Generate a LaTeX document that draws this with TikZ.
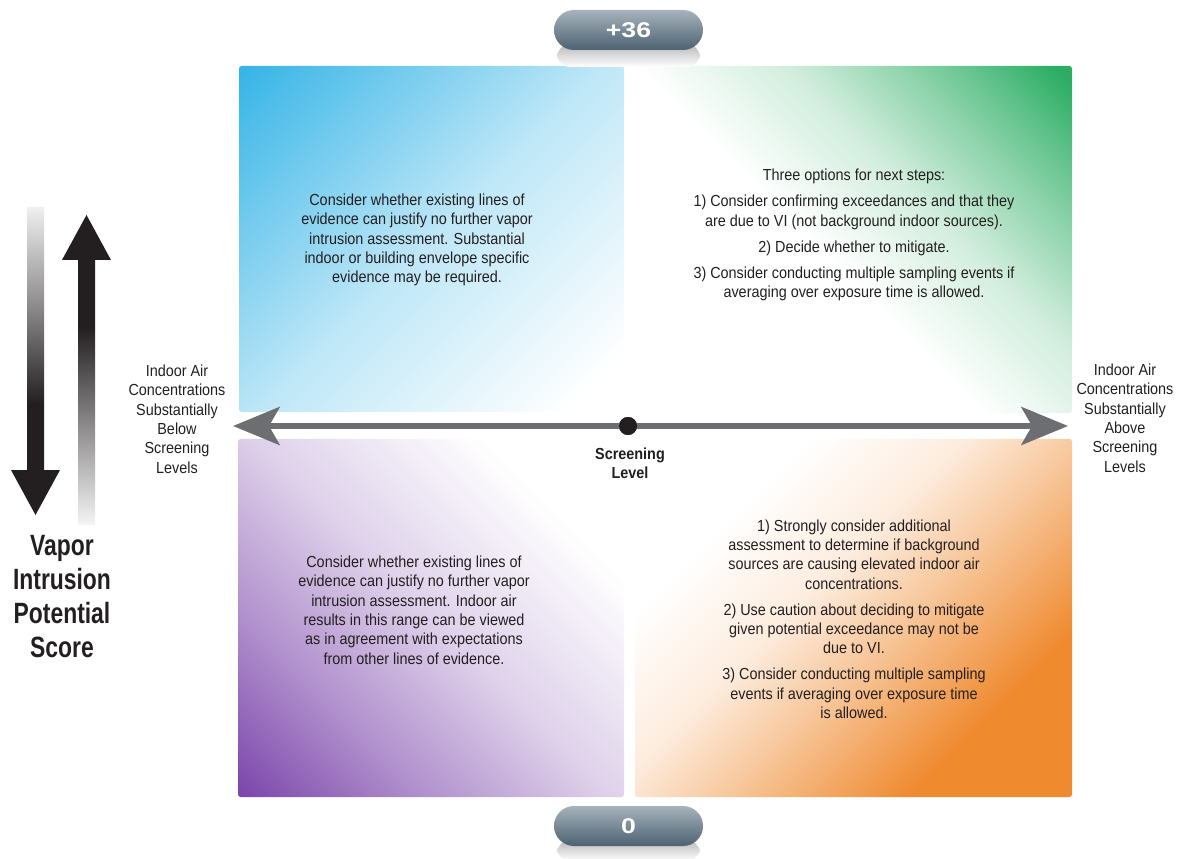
\documentclass[tikz,border=0pt]{standalone}
\usepackage{fontspec}
\setmainfont{Liberation Sans}[FakeStretch=0.9]
\newfontfamily\titlefont{Liberation Sans}[FakeStretch=0.78]
\newfontfamily\pillfont{Liberation Sans}[FakeStretch=1.25]
\usetikzlibrary{arrows.meta}

\definecolor{txt}{HTML}{231F20}
\definecolor{qcyan}{HTML}{35B4E6}
\definecolor{qgreen}{HTML}{2BAD63}
\definecolor{qpurple}{HTML}{7B45AA}
\definecolor{qorange}{HTML}{EF8A2F}
\definecolor{axisgray}{HTML}{6D6E71}
\definecolor{pilltop}{HTML}{A7B3BB}
\definecolor{pillbot}{HTML}{4C6272}

% diagonal fades for the four quadrants (corner colour -> white)
\pgfdeclarehorizontalshading{tlshade}{100bp}{color(0bp)=(qcyan); color(14.6bp)=(qcyan); color(50bp)=(qcyan!32!white); color(80bp)=(white); color(100bp)=(white)}
\pgfdeclarehorizontalshading{trshade}{100bp}{color(0bp)=(qgreen); color(16bp)=(qgreen); color(26bp)=(qgreen!65!white); color(40bp)=(qgreen!22!white); color(54bp)=(white); color(100bp)=(white)}
\pgfdeclarehorizontalshading{blshade}{100bp}{color(0bp)=(qpurple); color(14.6bp)=(qpurple); color(32bp)=(qpurple!60!white); color(50bp)=(qpurple!25!white); color(72bp)=(white); color(100bp)=(white)}
\pgfdeclarehorizontalshading{brshade}{100bp}{color(0bp)=(qorange); color(29bp)=(qorange); color(43bp)=(qorange!55!white); color(56bp)=(qorange!16!white); color(70bp)=(white); color(100bp)=(white)}
% fading shafts of the two vertical arrows
\pgfdeclareverticalshading{downfade}{100bp}{color(0bp)=(txt); color(43bp)=(txt); color(58bp)=(txt!55!white); color(75bp)=(white!94!black); color(100bp)=(white!94!black)}
\pgfdeclareverticalshading{upfade}{100bp}{color(0bp)=(white!96!black); color(25bp)=(white!96!black); color(42bp)=(txt!55!white); color(57bp)=(txt); color(100bp)=(txt)}

\tikzset{
  quad/.style={rounded corners=2pt},
  body/.style={text=txt, align=center, inner sep=0pt, font=\fontsize{12}{14.5}\selectfont},
  sidelabel/.style={text=txt, align=center, inner sep=0pt, font=\fontsize{12}{14.5}\selectfont},
  title/.style={text=txt, align=center, inner sep=0pt, font=\titlefont\bfseries\fontsize{22}{25.5}\selectfont},
  pill/.style={rectangle, rounded corners=15pt, minimum width=111.75pt, minimum height=30pt, top color=pilltop, bottom color=pillbot, text=white, font=\pillfont\bfseries\fontsize{16}{18}\selectfont, inner sep=0pt},
  pillshadow/.style={rounded corners=10pt, top color=black!28, bottom color=white},
  axisarrow/.style={draw=axisgray, line width=4.5pt, -{Stealth[length=35pt, width=28.5pt, inset=8pt]}},
  vdot/.style={circle, fill=txt, minimum size=13.5pt, inner sep=0pt},
  bolddot/.style={text=txt, align=center, inner sep=0pt, font=\bfseries\fontsize{12}{14.5}\selectfont}
}

\begin{document}
\begin{tikzpicture}[x=0.75pt, y=-0.75pt]
\useasboundingbox (0,0) rectangle (1179,859);

% quadrants
\shade[quad, shading=tlshade, shading angle=-45] (239,66) rectangle (624,412);
\shade[quad, shading=trshade, shading angle=-135] (635,66) rectangle (1072,413);
\shade[quad, shading=blshade, shading angle=45] (238,439) rectangle (624,797);
\shade[quad, shading=brshade, shading angle=135] (635,439) rectangle (1072,797);

% score pills with their reflections
\shade[pillshadow] (557,44) rectangle (700,67);
\node[pill] (top) at (628.5,30) {+36};
\shade[pillshadow] (557,840) rectangle (700,861);
\node[pill] (bottom) at (628.5,826) {0};

% horizontal axis
\node[vdot] (dot) at (628,426) {};
\coordinate (axL) at (233,426);
\coordinate (axR) at (1068,426);
\draw[axisarrow] (dot) -- (axL);
\draw[axisarrow] (dot) -- (axR);
\node[vdot] at (dot) {};
\node[bolddot] (screen) at (630,463) {Screening\\Level};

% vertical score arrows
\shade[shading=downfade] (27,207) -- (44,207) -- (44,470) -- (60,470) -- (35.5,515) -- (11,470) -- (27,470) -- cycle;
\shade[shading=upfade] (78,525) -- (95,525) -- (95,260) -- (111,260) -- (86.5,215) -- (62,260) -- (78,260) -- cycle;

\node[title] (score) at (62,597) {Vapor\\Intrusion\\Potential\\Score};

% side labels
\node[sidelabel] (below) at (177,419) {Indoor Air\\Concentrations\\Substantially\\Below\\Screening\\Levels};
\node[sidelabel] (above) at (1125,418) {Indoor Air\\Concentrations\\Substantially\\Above\\Screening\\Levels};

% quadrant texts
\node[body] (tltext) at (417,240) {Consider whether existing lines of\\evidence can justify no further vapor\\intrusion assessment. Substantial\\indoor or building envelope specific\\evidence may be required.};

\node[body] (trtext) at (854,235) {Three options for next steps:\\[5pt]1) Consider confirming exceedances and that they\\are due to VI (not background indoor sources).\\[5pt]2) Decide whether to mitigate.\\[5pt]3) Consider conducting multiple sampling events if\\averaging over exposure time is allowed.};

\node[body] (bltext) at (414,610) {Consider whether existing lines of\\evidence can justify no further vapor\\intrusion assessment. Indoor air\\results in this range can be viewed\\as in agreement with expectations\\from other lines of evidence.};

\node[body] (brtext) at (854,619) {1) Strongly consider additional\\assessment to determine if background\\sources are causing elevated indoor air\\concentrations.\\[5pt]2) Use caution about deciding to mitigate\\given potential exceedance may not be\\due to VI.\\[5pt]3) Consider conducting multiple sampling\\events if averaging over exposure time\\is allowed.};
\end{tikzpicture}
\end{document}
